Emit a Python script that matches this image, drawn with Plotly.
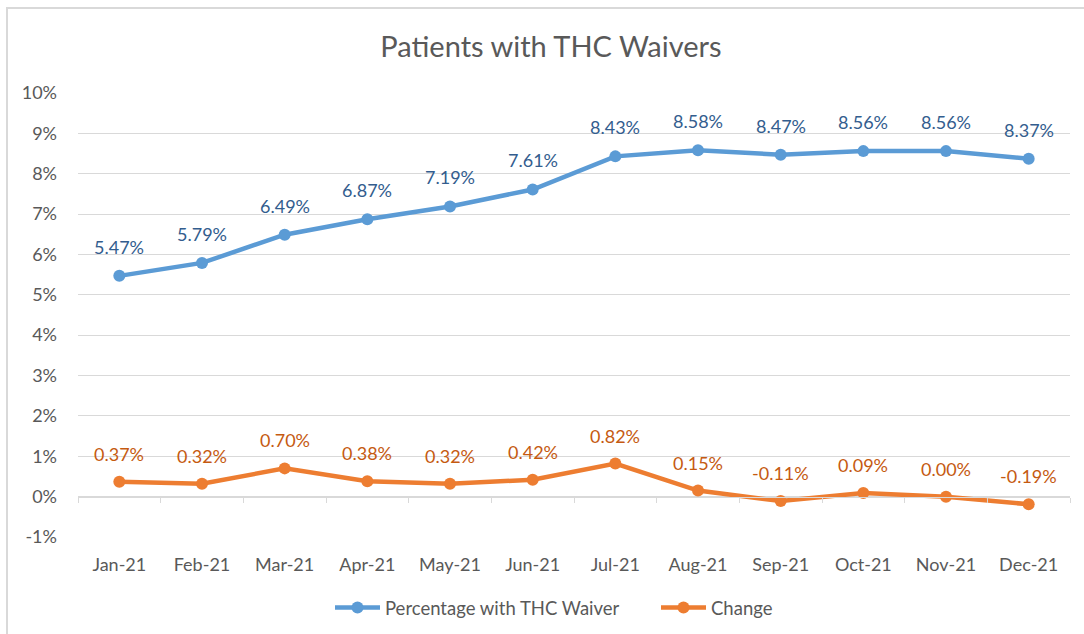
import plotly.graph_objects as go

months = ["Jan-21", "Feb-21", "Mar-21", "Apr-21", "May-21", "Jun-21",
          "Jul-21", "Aug-21", "Sep-21", "Oct-21", "Nov-21", "Dec-21"]
pct_waiver = [5.47, 5.79, 6.49, 6.87, 7.19, 7.61, 8.43, 8.58, 8.47, 8.56, 8.56, 8.37]
change = [0.37, 0.32, 0.70, 0.38, 0.32, 0.42, 0.82, 0.15, -0.11, 0.09, 0.00, -0.19]
y_ticks = [-1, 0, 1, 2, 3, 4, 5, 6, 7, 8, 9, 10]

BLUE = "#5B9BD5"
ORANGE = "#ED7D31"
BLUE_TXT = "#335D8E"
ORANGE_TXT = "#C55A11"
GRAY = "#595959"
GRID = "#D9D9D9"
FONT = "Lato, 'Open Sans', sans-serif"

pw = [v / 100 for v in pct_waiver]
ch = [v / 100 for v in change]

fig = go.Figure()
fig.add_trace(go.Scatter(x=months, y=pw, name="Percentage with THC Waiver",
                         mode="lines+markers",
                         line=dict(color=BLUE, width=4.5),
                         marker=dict(color=BLUE, size=12)))
fig.add_trace(go.Scatter(x=months, y=ch, name="Change",
                         mode="lines+markers",
                         line=dict(color=ORANGE, width=4.5),
                         marker=dict(color=ORANGE, size=12)))
# invisible trace to drive the tick-mark axis at 0%
fig.add_trace(go.Scatter(x=months, y=ch, xaxis="x2", mode="markers",
                         marker=dict(opacity=0), showlegend=False,
                         hoverinfo="skip"))

annos = []
for m, v in zip(months, pct_waiver):
    annos.append(dict(x=m, y=v / 100, text=f"{v:.2f}%", showarrow=False,
                      yshift=29, font=dict(color=BLUE_TXT, size=18, family=FONT)))
for m, v in zip(months, change):
    annos.append(dict(x=m, y=v / 100, text=f"{v:.2f}%", showarrow=False,
                      yshift=28, font=dict(color=ORANGE_TXT, size=18, family=FONT)))

ymin, ymax = -0.01, 0.10
zero_pos = (0 - ymin) / (ymax - ymin)

fig.update_layout(
    width=1084, height=634,
    paper_bgcolor="white", plot_bgcolor="white",
    margin=dict(l=78, r=14, t=93, b=97),
    title=dict(text="Patients with THC Waivers", x=551 / 1084, xanchor="center",
               y=1 - 47 / 634, yanchor="middle",
               font=dict(size=29, color=GRAY, family=FONT)),
    font=dict(family=FONT, color=GRAY, size=18),
    showlegend=True,
    legend=dict(orientation="h", xref="container", yref="container",
                x=330 / 1084, xanchor="left",
                y=1 - 608 / 634, yanchor="middle",
                font=dict(size=18.5, color=GRAY, family=FONT),
                itemwidth=45,
                entrywidthmode="pixels", entrywidth=266,
                traceorder="normal"),
    xaxis=dict(type="category", categoryorder="array", categoryarray=months,
               range=[-0.5, 11.5], showgrid=False, showline=False, zeroline=False,
               ticks="", ticklabelstandoff=15, automargin=False,
               tickfont=dict(size=18, color=GRAY, family=FONT)),
    xaxis2=dict(type="category", categoryorder="array", categoryarray=months,
                range=[-0.5, 11.5], overlaying="x", anchor="free", position=zero_pos,
                side="bottom", showline=True, linecolor=GRID, linewidth=1,
                ticks="outside", tickson="boundaries", ticklen=5, tickcolor=GRID,
                showticklabels=False, showgrid=False, zeroline=False),
    yaxis=dict(range=[ymin, ymax], tickvals=[t / 100 for t in y_ticks],
               ticktext=[f"{t}%" for t in y_ticks], showgrid=True, gridcolor=GRID,
               gridwidth=1, zeroline=False, showline=False, ticks="",
               ticklabelstandoff=20, automargin=False,
               tickfont=dict(size=18, color=GRAY, family=FONT)),
    annotations=annos,
    shapes=[dict(type="rect", xref="paper", yref="paper",
                 x0=(7 - 78) / 992, x1=(1095 - 78) / 992,
                 y0=(537 - 650) / 444, y1=(537 - 8) / 444,
                 line=dict(color=GRID, width=2), layer="below")],
)

fig.write_html("out.html", config={"displayModeBar": False},
               post_script="document.body.style.margin='0px';document.body.style.overflow='hidden';")
